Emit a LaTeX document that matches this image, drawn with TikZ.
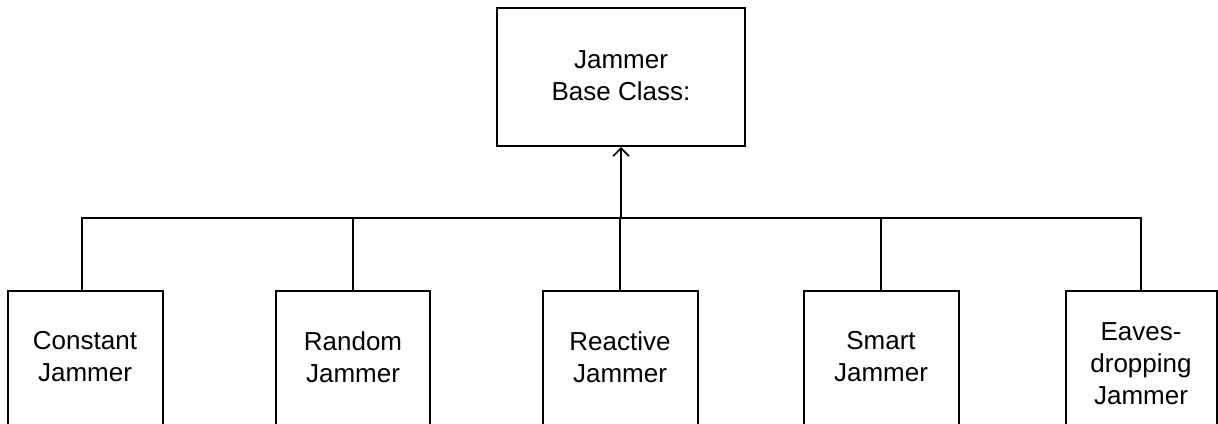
\documentclass[tikz,border=0pt]{standalone}
\usepackage{fontspec}
\setmainfont{Liberation Sans}
\usetikzlibrary{arrows.meta}
\begin{document}
\begin{tikzpicture}[x=1pt,y=-1pt,
  line width=2pt,
  box/.style={draw=black, line width=2pt, rectangle, inner sep=0pt},
  lbl/.style={align=center, font=\fontsize{26}{32}\selectfont, inner sep=0pt},
  conn/.style={draw=black, line width=2pt},
  arr/.style={-{Straight Barb[length=8pt,width=16pt,line width=1.6pt]}}]
\clip (0,0) rectangle (1218,423);
\fill[white] (0,0) rectangle (1218,423);
% top box
\node[box, minimum width=248pt, minimum height=138pt] (base) at (621,77) {};
\node[lbl] (baset) at (621,76) {Jammer\\Base Class:};
% bottom boxes
\node[box, anchor=north, minimum width=155pt, minimum height=170pt] (b1) at (85,290) {};
\node[box, anchor=north, minimum width=154pt, minimum height=170pt] (b2) at (353,290) {};
\node[box, anchor=north, minimum width=155pt, minimum height=170pt] (b3) at (620,290) {};
\node[box, anchor=north, minimum width=155pt, minimum height=170pt] (b4) at (881,290) {};
\node[box, anchor=north, minimum width=151pt, minimum height=170pt] (b5) at (1141,290) {};
\node[lbl] (t1) at (85,357) {Constant\\Jammer};
\node[lbl] (t2) at (353,357) {Random\\Jammer};
\node[lbl] (t3) at (620,357) {Reactive\\Jammer};
\node[lbl] (t4) at (881,357) {Smart\\Jammer};
\node[lbl] (t5) at (1141,364) {Eaves-\\dropping\\Jammer};
% bus
\coordinate (busL) at (82,218);
\coordinate (busR) at (1141,218);
\coordinate (busM) at (621,218);
\draw[conn] (b1.north -| busL) -- (busL) -- (busR) -- (b5.north -| busR);
\draw[conn] (b2.north) -- (b2.north |- busL);
\draw[conn] (b3.north) -- (b3.north |- busL);
\draw[conn] (b4.north) -- (b4.north |- busL);
\draw[conn, arr] (busM) -- (base.south -| busM);
\end{tikzpicture}
\end{document}
